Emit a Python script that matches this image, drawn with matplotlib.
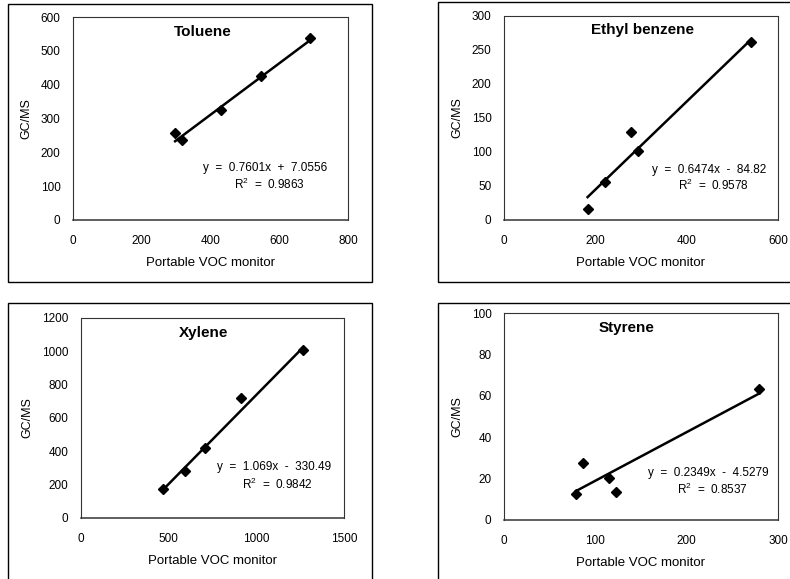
import matplotlib.pyplot as plt
from matplotlib.patches import Rectangle

plt.rcParams['font.family'] = ['Liberation Sans', 'DejaVu Sans']

# data
toluene_x = [297, 317, 431, 547, 690]
toluene_y = [257, 235, 325, 425, 539]
ethyl_x = [183, 222, 278, 294, 541]
ethyl_y = [16, 56, 130, 102, 262]
xylene_x = [469, 596, 706, 913, 1266]
xylene_y = [172, 281, 418, 722, 1008]
styrene_x = [79, 87, 115, 123, 279]
styrene_y = [12.5, 27.6, 20.5, 13.7, 63.5]

names = ['Toluene', 'Ethyl benzene', 'Xylene', 'Styrene']
slopes = [0.7601, 0.6474, 1.069, 0.2349]
intercepts = [7.0556, -84.82, -330.49, -4.5279]
r2 = ['0.9863', '0.9578', '0.9842', '0.8537']
eq_text = ['y  =  0.7601x  +  7.0556', 'y  =  0.6474x  -  84.82',
           'y  =  1.069x  -  330.49', 'y  =  0.2349x  -  4.5279']
xmax = [800, 600, 1500, 300]
xstep = [200, 200, 500, 100]
ymax = [600, 300, 1200, 100]
ystep = [100, 50, 200, 20]
xs = [toluene_x, ethyl_x, xylene_x, styrene_x]
ys = [toluene_y, ethyl_y, xylene_y, styrene_y]

W, H = 790, 579
fig = plt.figure(figsize=(7.9, 5.79), dpi=100)

# axes boxes in pixels: left, top, right, bottom
boxes = [(73, 17, 348, 220), (504, 16, 778, 220),
         (81, 318, 344, 518), (504, 313, 778, 520)]
title_pos = [(0.47, 0.925), (0.506, 0.93), (0.465, 0.925), (0.448, 0.927)]
eq_pos = [(0.70, 0.254, 0.175), (0.748, 0.245, 0.168),
          (0.733, 0.256, 0.169), (0.746, 0.229, 0.148)]
# outer panel frames in pixels
frames = [(8, 4, 372, 282), (438, 2, 792, 282),
          (8, 303, 372, 582), (438, 303, 792, 582)]

for fl, ft, fr, fb in frames:
    fig.add_artist(Rectangle((fl / W, 1 - fb / H), (fr - fl) / W, (fb - ft) / H,
                             transform=fig.transFigure, fill=False,
                             edgecolor='black', lw=1.0))

for i in range(4):
    l, t, r, b = boxes[i]
    ax = fig.add_axes([l / W, 1 - b / H, (r - l) / W, (b - t) / H])
    ax.plot(xs[i], ys[i], 'D', color='black', markersize=5)
    x0, x1 = min(xs[i]), max(xs[i])
    ax.plot([x0, x1], [slopes[i] * x0 + intercepts[i], slopes[i] * x1 + intercepts[i]],
            color='black', lw=1.8)
    ax.set_xlim(0, xmax[i])
    ax.set_ylim(0, ymax[i])
    ax.set_xticks(range(0, xmax[i] + 1, xstep[i]))
    ax.set_yticks(range(0, ymax[i] + 1, ystep[i]))
    ax.tick_params(axis='x', length=0, labelsize=8.5, pad=11)
    ax.tick_params(axis='y', length=0, labelsize=8.5, pad=9)
    for s in ax.spines.values():
        s.set_linestyle((0, (3, 1)))
        s.set_linewidth(0.8)
        s.set_color('#333333')
    ax.spines['bottom'].set_linestyle('-')
    ax.spines['bottom'].set_linewidth(1.1)
    ax.set_xlabel('Portable VOC monitor', fontsize=9.5, labelpad=7)
    ax.set_ylabel('GC/MS', fontsize=9, labelpad=6)
    tx, ty = title_pos[i]
    ax.text(tx, ty, names[i], transform=ax.transAxes, ha='center', va='center',
            fontsize=11, fontweight='bold')
    ex, ey, ry = eq_pos[i]
    ax.text(ex, ey, eq_text[i], transform=ax.transAxes, ha='center', va='center',
            fontsize=8.5)
    ax.text(ex + 0.015, ry, '$\\mathregular{R^2}$  =  ' + r2[i], transform=ax.transAxes,
            ha='center', va='center', fontsize=8.5)

fig.savefig('out.png', dpi=100)
